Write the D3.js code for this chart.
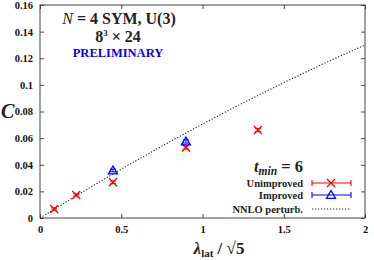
<!DOCTYPE html>
<html>
<head>
<meta charset="utf-8">
<script src="https://cdn.jsdelivr.net/npm/d3@7"></script>
<style>
  body { margin: 0; background: #fff; }
</style>
</head>
<body>
<svg id="chart" width="374" height="260"></svg>
<script>
// data
var lambdaUnimp = [0.087, 0.223, 0.449, 0.898, 1.341];
var cUnimp      = [0.0068, 0.0173, 0.0268, 0.0530, 0.0661];
var errUnimp    = [0.0008, 0.0008, 0.0010, 0.0012, 0.0012];

var lambdaImp = [0.449, 0.898];
var cImp      = [0.0357, 0.0575];
var errImp    = [0.0010, 0.0012];

var lambdaNNLO = [0, 0.25, 0.5, 0.75, 1.0, 1.25, 1.5, 1.75, 2.0];
var cNNLO      = [0, 0.0187, 0.0367, 0.0540, 0.0706, 0.0865, 0.1017, 0.1162, 0.1300];

var xTicks = [0, 0.5, 1, 1.5, 2];
var yTicks = [0, 0.02, 0.04, 0.06, 0.08, 0.1, 0.12, 0.14, 0.16];

var W = 374, H = 260;
var m = {left: 40, right: 9, top: 5, bottom: 42};

var svg = d3.select("#chart");
var x = d3.scaleLinear().domain([0, 2]).range([m.left, W - m.right]);
var y = d3.scaleLinear().domain([0, 0.16]).range([H - m.bottom, m.top]);

var frameCol = "#444";

// ticks: inside, on all four sides
var tl = 4;
svg.append("g").attr("transform", "translate(0," + y(0) + ")")
    .call(d3.axisBottom(x).tickValues(xTicks).tickSize(-tl).tickPadding(8)
        .tickFormat(d => d3.format("")(d)))
    .call(g => g.select(".domain").remove());
svg.append("g").attr("transform", "translate(0," + y(0.16) + ")")
    .call(d3.axisTop(x).tickValues(xTicks).tickSize(-tl).tickFormat(""))
    .call(g => g.select(".domain").remove());
svg.append("g").attr("transform", "translate(" + x(0) + ",0)")
    .call(d3.axisLeft(y).tickValues(yTicks).tickSize(-tl).tickPadding(7)
        .tickFormat(d => d3.format("")(+d.toFixed(2))))
    .call(g => g.select(".domain").remove());
svg.append("g").attr("transform", "translate(" + x(2) + ",0)")
    .call(d3.axisRight(y).tickValues(yTicks).tickSize(-tl).tickFormat(""))
    .call(g => g.select(".domain").remove());

svg.selectAll(".tick line").attr("stroke", frameCol);
svg.selectAll(".tick text").attr("font-size", 10.5).attr("fill", "#111");

svg.append("rect")
    .attr("x", x(0)).attr("y", y(0.16))
    .attr("width", x(2) - x(0)).attr("height", y(0) - y(0.16))
    .attr("fill", "none").attr("stroke", frameCol).attr("stroke-width", 1);

// NNLO curve
var line = d3.line().x((d, i) => x(lambdaNNLO[i])).y(d => y(d));
svg.append("path").datum(cNNLO)
    .attr("d", line)
    .attr("fill", "none").attr("stroke", "#222")
    .attr("stroke-width", 1.1).attr("stroke-dasharray", "1.2,1.8");

// marker helpers
function cross(g, cx, cy, col) {
    var s = 4;
    g.append("path")
        .attr("d", "M" + (cx - s) + "," + (cy - s) + "L" + (cx + s) + "," + (cy + s) +
                   "M" + (cx - s) + "," + (cy + s) + "L" + (cx + s) + "," + (cy - s))
        .attr("stroke", col).attr("stroke-width", 1.3).attr("fill", "none");
}
function tri(g, cx, cy, col) {
    var s = 4.5;
    g.append("path")
        .attr("d", "M" + cx + "," + (cy - s) + "L" + (cx + s) + "," + (cy + s * 0.75) +
                   "L" + (cx - s) + "," + (cy + s * 0.75) + "Z")
        .attr("stroke", col).attr("stroke-width", 1.3).attr("fill", "none");
}
function errbar(g, cx, v, e, col) {
    var cap = 3;
    g.append("path")
        .attr("d", "M" + cx + "," + y(v - e) + "L" + cx + "," + y(v + e) +
                   "M" + (cx - cap) + "," + y(v - e) + "L" + (cx + cap) + "," + y(v - e) +
                   "M" + (cx - cap) + "," + y(v + e) + "L" + (cx + cap) + "," + y(v + e))
        .attr("stroke", col).attr("stroke-width", 1).attr("fill", "none");
}

var red = "#f00", blue = "#00f";
var gU = svg.append("g");
lambdaUnimp.forEach(function(l, i) {
    errbar(gU, x(l), cUnimp[i], errUnimp[i], red);
    cross(gU, x(l), y(cUnimp[i]), red);
});
var gI = svg.append("g");
lambdaImp.forEach(function(l, i) {
    errbar(gI, x(l), cImp[i], errImp[i], blue);
    tri(gI, x(l), y(cImp[i]), blue);
});

// titles
var t1 = svg.append("text").attr("x", 119).attr("y", 24).attr("text-anchor", "middle")
    .attr("font-size", 16).attr("fill", "#222");
t1.append("tspan").attr("class", "cal").text("N");
t1.append("tspan").text(" = 4 SYM, U(3)");
var t2 = svg.append("text").attr("x", 118).attr("y", 42).attr("text-anchor", "middle")
    .attr("font-size", 16).attr("fill", "#222");
t2.append("tspan").text("8");
t2.append("tspan").attr("font-size", 9).attr("dy", -6).text("3");
t2.append("tspan").attr("dy", 6).text(" \u00d7 24");
svg.append("text").attr("x", 118).attr("y", 57).attr("text-anchor", "middle")
    .attr("font-size", 12.5).attr("fill", blue).text("PRELIMINARY");

// axis labels
svg.append("text").attr("x", 1).attr("y", 118)
    .attr("font-size", 20).attr("font-style", "italic").attr("fill", "#222").text("C");
var xl = svg.append("text").attr("x", 219).attr("y", 254).attr("text-anchor", "middle")
    .attr("font-size", 17).attr("fill", "#222");
xl.append("tspan").attr("font-style", "italic").text("\u03bb");
xl.append("tspan").attr("font-size", 11).attr("dy", 3).text("lat");
xl.append("tspan").attr("dy", -3).text(" / \u221a5");

// legend
var lt = svg.append("text").attr("x", 303).attr("y", 172).attr("text-anchor", "end")
    .attr("font-size", 16.5).attr("fill", "#222");
lt.append("tspan").attr("font-style", "italic").text("t");
lt.append("tspan").attr("font-style", "italic").attr("font-size", 11.5).attr("dy", 3).text("min");
lt.append("tspan").attr("dy", -3).text(" = 6");

var legItems = ["Unimproved", "Improved", "NNLO perturb."];
var legY = [183, 195, 209];
var lx0 = 312, lx1 = 351, lxm = 331;
legItems.forEach(function(name, i) {
    svg.append("text").attr("x", 303).attr("y", legY[i] + 4).attr("text-anchor", "end")
        .attr("font-size", 10.5).attr("fill", "#222").text(name);
});
var gl = svg.append("g");
[[red, cross], [blue, tri]].forEach(function(p, i) {
    var yy = legY[i];
    gl.append("path")
        .attr("d", "M" + lx0 + "," + yy + "L" + lx1 + "," + yy +
                   "M" + lx0 + "," + (yy - 3) + "L" + lx0 + "," + (yy + 3) +
                   "M" + lx1 + "," + (yy - 3) + "L" + lx1 + "," + (yy + 3))
        .attr("stroke", p[0]).attr("stroke-width", 1.1);
    p[1](gl, lxm, yy, p[0]);
});
gl.append("line").attr("x1", lx0).attr("x2", lx1).attr("y1", legY[2]).attr("y2", legY[2])
    .attr("stroke", "#222").attr("stroke-width", 1.1).attr("stroke-dasharray", "1.2,1.8");

// all text bold serif, like the original
svg.selectAll("text").style("font-family", "'Liberation Serif'").style("font-weight", "bold");
svg.selectAll("tspan.cal").style("font-style", "italic").style("font-weight", "normal");
</script>
</body>
</html>
